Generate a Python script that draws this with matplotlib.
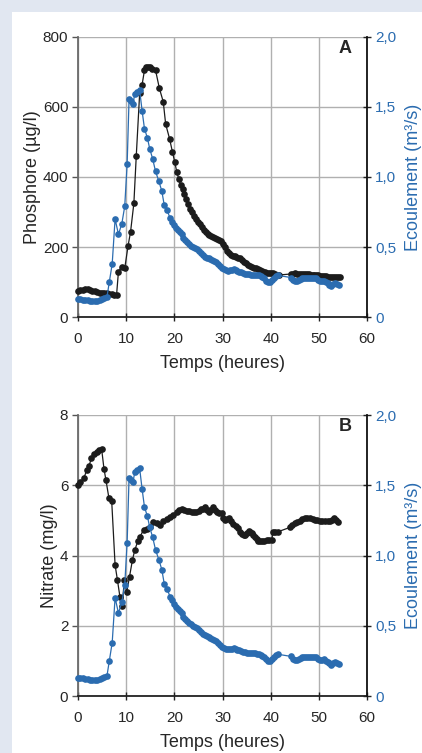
import matplotlib
matplotlib.use("Agg")
import matplotlib.pyplot as plt
from matplotlib.patches import Rectangle
from matplotlib.ticker import FuncFormatter

plt.rcParams['font.family'] = ['Liberation Sans', 'DejaVu Sans']

# ---------------- data ----------------
flow_t = [0, 0.5, 1, 1.5, 2, 2.5, 3, 3.5, 4, 4.5, 5, 5.5, 6, 6.5, 7.1, 7.7, 8.4, 9.1, 9.7, 10.2,
          10.6, 11.0, 11.4, 11.8, 12.3, 12.8, 13.3, 13.8, 14.4, 14.9, 15.5, 16.1, 16.8, 17.4, 17.9,
          18.5, 19.1, 19.5, 19.9, 20.3, 20.7, 21.1, 21.5, 21.9, 22.3, 22.7, 23.1, 23.5, 23.9, 24.3,
          24.7, 25.1, 25.5, 25.9, 26.3, 26.7, 27.1, 27.5, 27.9, 28.3, 28.7, 29.1, 29.5, 29.9, 30.3,
          30.7, 31.1, 31.5, 31.9, 32.3, 32.7, 33.1, 33.5, 33.9, 34.3, 34.7, 35.1, 35.5, 35.9, 36.3,
          36.7, 37.1, 37.5, 37.9, 38.3, 38.7, 39.1, 39.5, 39.9, 40.3, 40.7, 41.1, 41.5, 44.2, 44.6,
          45.0, 45.4, 45.8, 46.2, 46.6, 47.0, 47.4, 47.8, 48.2, 48.6, 49.0, 49.4, 49.8, 50.2, 50.6,
          51.0, 51.4, 51.8, 52.2, 52.6, 53.0, 53.4, 53.8, 54.2]
flow_q = [0.13, 0.13, 0.125, 0.12, 0.118, 0.115, 0.112, 0.112, 0.115, 0.12, 0.13, 0.135, 0.14, 0.25,
          0.38, 0.70, 0.59, 0.667, 0.79, 1.09, 1.555, 1.54, 1.52, 1.595, 1.605, 1.62, 1.475, 1.345,
          1.28, 1.20, 1.13, 1.04, 0.968, 0.90, 0.80, 0.763, 0.707, 0.68, 0.655, 0.635, 0.622, 0.605,
          0.59, 0.565, 0.548, 0.535, 0.522, 0.51, 0.50, 0.492, 0.483, 0.47, 0.455, 0.443, 0.432,
          0.425, 0.42, 0.415, 0.405, 0.398, 0.39, 0.378, 0.363, 0.35, 0.34, 0.335, 0.332, 0.333,
          0.338, 0.34, 0.335, 0.33, 0.325, 0.32, 0.315, 0.31, 0.306, 0.304, 0.303, 0.303, 0.303,
          0.302, 0.30, 0.295, 0.287, 0.278, 0.26, 0.247, 0.25, 0.262, 0.278, 0.29, 0.297, 0.282,
          0.262, 0.255, 0.256, 0.262, 0.272, 0.278, 0.28, 0.281, 0.28, 0.28, 0.281, 0.28, 0.278,
          0.265, 0.256, 0.258, 0.26, 0.25, 0.243, 0.232, 0.222, 0.236, 0.243, 0.235, 0.228]

phos_t = [0, 0.5, 1, 1.5, 2, 2.5, 3, 3.5, 4, 4.5, 5, 5.5, 6, 6.5, 7, 7.5, 8.0, 8.4, 9.1, 9.7, 10.4,
          10.9, 11.6, 12.1, 12.8, 13.3, 13.8, 14.2, 14.6, 15.0, 15.4, 16.1, 16.9, 17.7, 18.2, 19.0,
          19.6, 20.1, 20.5, 20.9, 21.3, 21.7, 22.1, 22.5, 22.9, 23.3, 23.7, 24.1, 24.5, 24.9, 25.3,
          25.7, 26.1, 26.5, 26.9, 27.3, 27.7, 28.1, 28.5, 28.9, 29.3, 29.7, 30.1, 30.5, 30.9, 31.3,
          31.7, 32.1, 32.5, 32.9, 33.3, 33.7, 34.1, 34.5, 34.9, 35.3, 35.7, 36.1, 36.5, 36.9, 37.3,
          37.7, 38.1, 38.5, 38.9, 39.3, 39.7, 40.1, 40.5, 40.9, 41.3, 41.7, 44.3, 44.7, 45.1, 45.5,
          45.9, 46.3, 46.7, 47.1, 47.5, 47.9, 48.3, 48.7, 49.1, 49.5, 49.9, 50.3, 50.7, 51.1, 51.5,
          51.9, 52.3, 52.7, 53.1, 53.5, 53.9, 54.4]
phos_v = [75, 77, 78, 80, 80, 78, 75, 73, 72, 70, 69, 70, 69, 67, 66, 64, 62, 130, 144, 139, 204,
          242, 325, 461, 639, 663, 705, 715, 715, 713, 710, 705, 653, 615, 551, 510, 472, 442, 415,
          395, 377, 365, 352, 336, 322, 310, 300, 288, 279, 272, 266, 258, 250, 243, 238, 234, 232,
          229, 226, 223, 220, 216, 210, 200, 190, 182, 177, 175, 174, 172, 170, 168, 163, 158, 154,
          150, 147, 144, 141, 139, 137, 134, 132, 130, 129, 127, 126, 125, 125, 123, 121, 120, 123,
          124, 125, 124, 123, 122, 122, 122, 122, 122, 121, 121, 120, 120, 119, 118, 117, 116, 116,
          115, 115, 114, 113, 113, 114, 115]

nitr_t = [0.0, 0.5, 1.2, 1.8, 2.3, 2.8, 3.4, 3.9, 4.4, 4.9, 5.4, 5.8, 6.4, 7.0, 7.7, 8.2, 8.7, 9.2,
          9.6, 10.1, 10.7, 11.3, 11.8, 12.4, 12.9, 13.6, 14.3, 14.9, 15.6, 16.3, 17.0, 17.7, 18.4,
          19.1, 19.8, 20.5, 21.0, 21.5, 22.0, 22.6, 23.1, 23.6, 24.1, 24.6, 25.1, 25.5, 26.0, 26.4,
          26.8, 27.1, 27.5, 28.0, 28.4, 28.8, 29.3, 29.8, 30.2, 30.5, 31.0, 31.4, 31.8, 32.2, 32.7,
          33.3, 33.7, 34.0, 34.4, 34.7, 35.1, 35.4, 35.8, 36.1, 36.4, 36.7, 37.1, 37.4, 37.8, 38.1,
          38.6, 39.2, 39.7, 40.2, 40.5, 41.0, 41.6, 44.0, 44.5, 45.0, 45.5, 46.1, 46.6, 47.1, 47.6,
          48.2, 48.7, 49.2, 49.7, 50.2, 50.7, 51.3, 51.8, 52.3, 52.7, 53.1, 53.6, 54.0]
nitr_v = [6.02, 6.1, 6.2, 6.42, 6.56, 6.77, 6.9, 6.96, 7.01, 7.04, 6.46, 6.15, 5.65, 5.54, 3.73,
          3.29, 2.83, 2.57, 3.29, 2.95, 3.4, 3.87, 4.16, 4.4, 4.54, 4.73, 4.75, 4.82, 4.94, 4.92,
          4.87, 4.97, 5.04, 5.11, 5.16, 5.24, 5.3, 5.33, 5.3, 5.27, 5.26, 5.25, 5.25, 5.23, 5.28,
          5.33, 5.32, 5.37, 5.3, 5.23, 5.3, 5.37, 5.3, 5.23, 5.22, 5.2, 5.08, 5.01, 5.04, 5.06,
          4.98, 4.89, 4.84, 4.78, 4.68, 4.61, 4.58, 4.57, 4.65, 4.7, 4.67, 4.63, 4.58, 4.54, 4.48,
          4.42, 4.4, 4.4, 4.42, 4.44, 4.44, 4.44, 4.66, 4.67, 4.68, 4.8, 4.86, 4.92, 4.96, 4.99,
          5.03, 5.06, 5.06, 5.06, 5.04, 5.01, 5.0, 4.99, 4.99, 4.99, 4.99, 4.99, 5.02, 5.06, 5.0,
          4.95]

x_ticks = [0, 10, 20, 30, 40, 50, 60]
phos_ticks = [0, 200, 400, 600, 800]
nitr_ticks = [0, 2, 4, 6, 8]
flow_ticks = [0, 0.5, 1.0, 1.5, 2.0]

# ---------------- styling ----------------
BLUE = '#2b6cb0'
BLACK = '#1c1c1c'
GRID = '#b0b0b0'
BG = '#e1e7f1'
TXT = '#262626'

fig = plt.figure(figsize=(4.22, 7.53), dpi=100, facecolor=BG)
fig.patches.append(Rectangle((12 / 422, 0), 1, 1 - 12 / 753, transform=fig.transFigure,
                             facecolor='white', edgecolor='none', zorder=-10))


def flow_fmt(v, pos):
    if abs(v) < 1e-9:
        return '0'
    return ('%.1f' % v).replace('.', ',')


def panel(rect, t, v, ylim, yticks, ylabel, letter):
    ax = fig.add_axes(rect)
    ax.set_facecolor('none')
    ax.set_xlim(0, 60)
    ax.set_ylim(*ylim)
    ax.set_xticks(x_ticks)
    ax.set_yticks(yticks)
    ax.grid(True, color=GRID, linewidth=1.0)
    ax.set_axisbelow(True)
    for s in ['top', 'right']:
        ax.spines[s].set_visible(False)
    ax.spines['left'].set_color('#6a6a6a')
    ax.spines['left'].set_linewidth(1.3)
    ax.spines['bottom'].set_color('#222222')
    ax.spines['bottom'].set_linewidth(1.3)
    ax.tick_params(axis='y', direction='out', length=4, width=1, color='#555555',
                   labelsize=11, pad=3, labelcolor=TXT)
    ax.tick_params(axis='x', direction='inout', length=6, width=1, color='#222222',
                   labelsize=11, pad=8, labelcolor=TXT)
    ax.set_xlabel('Temps (heures)', fontsize=13, color=TXT, labelpad=6)
    ax.set_ylabel(ylabel, fontsize=13, color=TXT, labelpad=1)
    ax.plot(t, v, color=BLACK, linewidth=0.9, marker='o', markersize=4.8,
            markeredgewidth=0, zorder=3, clip_on=False)
    ax.text(0.925, 0.96, letter, transform=ax.transAxes, ha='center', va='center',
            fontsize=13, fontweight='bold', color=TXT)

    ax2 = ax.twinx()
    ax2.set_ylim(0, 2.0)
    ax2.set_yticks(flow_ticks)
    ax2.yaxis.set_major_formatter(FuncFormatter(flow_fmt))
    for s in ['top', 'left', 'bottom']:
        ax2.spines[s].set_visible(False)
    ax2.spines['right'].set_color('#111111')
    ax2.spines['right'].set_linewidth(1.3)
    ax2.tick_params(axis='y', direction='inout', length=6, width=1, color='#222222',
                    labelsize=11, pad=3, labelcolor=BLUE)
    ax2.set_ylabel('Ecoulement (m³/s)', fontsize=13, color=BLUE, labelpad=6)
    ax2.plot(flow_t, flow_q, color=BLUE, linewidth=0.9, marker='o', markersize=4.8,
             markeredgewidth=0, zorder=3, clip_on=False)
    return ax, ax2


L = 78 / 422
W = (367 - 78) / 422
panel([L, 1 - 317 / 753, W, 280 / 753], phos_t, phos_v, (0, 800), phos_ticks,
      'Phosphore (µg/l)', 'A')
panel([L, 1 - 696 / 753, W, 281 / 753], nitr_t, nitr_v, (0, 8), nitr_ticks,
      'Nitrate (mg/l)', 'B')

fig.savefig('out.png', dpi=100, facecolor=BG)
